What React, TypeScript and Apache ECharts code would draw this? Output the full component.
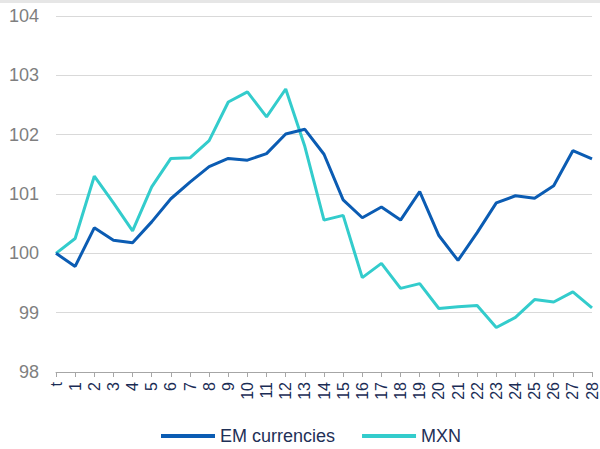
import React, { useEffect, useRef } from "react";
import * as echarts from "echarts";

const categories = ["t", "1", "2", "3", "4", "5", "6", "7", "8", "9", "10", "11", "12", "13", "14", "15", "16", "17", "18", "19", "20", "21", "22", "23", "24", "25", "26", "27", "28"];
const emCurrencies = [100, 99.78, 100.43, 100.22, 100.18, 100.53, 100.92, 101.2, 101.46, 101.6, 101.57, 101.68, 102.01, 102.09, 101.67, 100.9, 100.6, 100.78, 100.56, 101.04, 100.3, 99.88, 100.35, 100.85, 100.97, 100.93, 101.14, 101.73, 101.59];
const mxn = [100, 100.25, 101.3, 100.85, 100.38, 101.12, 101.6, 101.61, 101.9, 102.55, 102.72, 102.3, 102.77, 101.8, 100.56, 100.64, 99.59, 99.83, 99.41, 99.49, 99.07, 99.1, 99.12, 98.75, 98.92, 99.22, 99.18, 99.35, 99.08];
const seriesNames = ["EM currencies", "MXN"];
const yMin = 98;
const yMax = 104;

export default function App() {
  const ref = useRef<HTMLDivElement>(null);
  useEffect(() => {
    document.body.style.margin = "0";
    const chart = echarts.init(ref.current!, undefined, { renderer: "svg" });
    chart.setOption({
      animation: false,
      backgroundColor: "#ffffff",
      textStyle: { fontFamily: "Liberation Sans, Arial, sans-serif" },
      graphic: [
        { type: "rect", left: 0, top: 0, shape: { width: 600, height: 3 }, style: { fill: "#e6e6e6" }, silent: true },
      ],
      grid: { left: 56, right: 8, top: 16, bottom: 77, containLabel: false },
      legend: {
        left: 161,
        top: 427,
        padding: 0,
        icon: "rect",
        itemWidth: 54,
        itemHeight: 4,
        itemGap: 27,
        textStyle: { color: "#1f3057", fontSize: 18, fontFamily: "Liberation Sans, Arial, sans-serif" },
        data: seriesNames,
      },
      xAxis: {
        type: "category",
        data: categories,
        boundaryGap: false,
        axisLine: { show: true, lineStyle: { color: "#a6a6a6", width: 1 } },
        axisTick: { show: true, length: 5, alignWithLabel: true, interval: 0, lineStyle: { color: "#a6a6a6" } },
        axisLabel: { rotate: 90, interval: 0, margin: 10, color: "#1a2c55", fontSize: 16 },
        splitLine: { show: false },
      },
      yAxis: {
        type: "value",
        min: yMin,
        max: yMax,
        interval: 1,
        axisLine: { show: false },
        axisTick: { show: false },
        axisLabel: { color: "#7f7f7f", fontSize: 18, margin: 17 },
        splitLine: { show: true, lineStyle: { color: "#d9d9d9", width: 1 } },
      },
      series: [
        {
          name: seriesNames[0],
          type: "line",
          data: emCurrencies,
          showSymbol: false,
          symbol: "none",
          lineStyle: { color: "#0b5cb3", width: 3 },
          itemStyle: { color: "#0b5cb3" },
          z: 3,
        },
        {
          name: seriesNames[1],
          type: "line",
          data: mxn,
          showSymbol: false,
          symbol: "none",
          lineStyle: { color: "#33cccc", width: 3 },
          itemStyle: { color: "#33cccc" },
          z: 2,
        },
      ],
    });
    return () => chart.dispose();
  }, []);
  return <div ref={ref} style={{ width: 600, height: 449 }} />;
}
